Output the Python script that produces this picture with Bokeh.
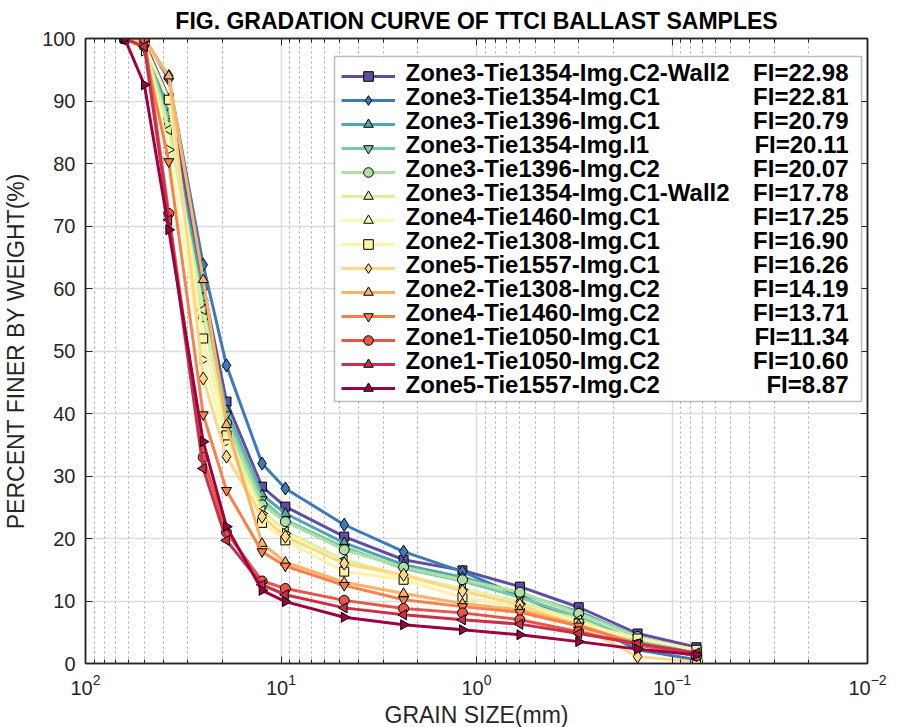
import numpy as np
from bokeh.plotting import figure
from bokeh.models import (Range1d, LogTicker, SingleIntervalTicker, Legend, LegendItem,
                          Label, BoxAnnotation, ColumnDataSource, LogAxis, LinearAxis,
                          CustomJSTickFormatter)
from bokeh.core.properties import value
from bokeh.embed import file_html
from bokeh.resources import INLINE

# ---------------- data ----------------
sieve_mm = [63.0, 50.0, 37.5, 25.0, 19.0, 12.5, 9.5, 4.75, 2.36, 1.18, 0.6, 0.3, 0.15, 0.075]

z3_t1354_c2_wall2 = [100, 99.5, 90.5, 60.5, 41.9, 28.3, 25.1, 20.3, 16.6, 14.9, 12.3, 9.0, 4.8, 2.6]
z3_t1354_c1       = [100, 100, 93.5, 63.8, 47.7, 32.0, 28.0, 22.2, 17.9, 14.7, 10.8, 6.8, 2.2, 0.6]
z3_t1396_c1       = [100, 99.5, 88.0, 58.5, 40.5, 27.0, 24.0, 19.3, 15.8, 13.8, 11.2, 8.3, 4.3, 1.5]
z3_t1354_i1       = [100, 99.0, 86.7, 57.0, 39.8, 26.2, 23.0, 18.6, 15.2, 13.2, 10.6, 7.5, 3.6, 1.5]
z3_t1396_c2       = [100, 99.0, 86.0, 55.5, 38.5, 25.4, 22.7, 18.2, 15.4, 13.4, 11.4, 8.0, 4.3, 2.1]
z3_t1354_c1_wall2 = [100, 98.5, 85.4, 56.6, 37.0, 24.5, 21.1, 16.6, 14.0, 12.0, 9.8, 7.0, 3.2, 1.2]
z4_t1460_c1       = [100, 98.0, 82.2, 48.6, 35.5, 24.0, 20.8, 16.0, 13.8, 11.8, 9.5, 6.6, 3.0, 1.25]
z2_t1308_c1       = [100, 99.0, 90.2, 52.0, 36.5, 22.5, 19.7, 14.7, 13.4, 10.6, 9.0, 6.4, 4.0, 2.2]
z5_t1557_c1       = [100, 99.5, 94.0, 45.6, 33.1, 23.5, 20.3, 16.0, 14.2, 11.6, 9.4, 6.0, 1.1, 0.26]
z2_t1308_c2       = [100, 100, 94.0, 61.4, 38.2, 19.2, 16.2, 13.0, 11.2, 9.6, 8.6, 6.2, 3.0, 1.2]
z4_t1460_c2       = [100, 98.5, 80.3, 39.8, 27.7, 17.9, 15.6, 12.5, 10.2, 9.1, 8.2, 6.0, 3.2, 1.2]
z1_t1050_c1       = [100, 100, 72.0, 33.0, 21.0, 13.2, 12.0, 10.1, 8.8, 8.1, 7.0, 5.1, 3.0, 1.24]
z1_t1050_c2       = [100, 98.7, 71.0, 31.2, 19.7, 12.6, 11.0, 8.9, 7.8, 7.0, 6.3, 4.8, 3.2, 1.7]
z5_t1557_c2       = [100, 92.6, 69.4, 35.5, 21.9, 11.7, 9.9, 7.4, 6.2, 5.4, 4.6, 3.5, 2.3, 1.4]

series_values = [z3_t1354_c2_wall2, z3_t1354_c1, z3_t1396_c1, z3_t1354_i1, z3_t1396_c2,
                 z3_t1354_c1_wall2, z4_t1460_c1, z2_t1308_c1, z5_t1557_c1, z2_t1308_c2,
                 z4_t1460_c2, z1_t1050_c1, z1_t1050_c2, z5_t1557_c2]

sample_names = ["Zone3-Tie1354-Img.C2-Wall2", "Zone3-Tie1354-Img.C1", "Zone3-Tie1396-Img.C1",
                "Zone3-Tie1354-Img.I1", "Zone3-Tie1396-Img.C2", "Zone3-Tie1354-Img.C1-Wall2",
                "Zone4-Tie1460-Img.C1", "Zone2-Tie1308-Img.C1", "Zone5-Tie1557-Img.C1",
                "Zone2-Tie1308-Img.C2", "Zone4-Tie1460-Img.C2", "Zone1-Tie1050-Img.C1",
                "Zone1-Tie1050-Img.C2", "Zone5-Tie1557-Img.C2"]
fi_labels = ["FI=22.98", "FI=22.81", "FI=20.79", "FI=20.11", "FI=20.07", "FI=17.78", "FI=17.25",
             "FI=16.90", "FI=16.26", "FI=14.19", "FI=13.71", "FI=11.34", "FI=10.60", "FI=8.87"]

# ---------------- style ----------------
colors = ["#5e4fa2", "#3c7bb7", "#4ea7b0", "#7bcaa5", "#b0dfa3", "#ddf19a", "#f5fbb0",
          "#fff3ab", "#fed885", "#fdb264", "#f7814c", "#e65749", "#c8304c", "#9e0142"]
markers = ["square", "diamond", "triangle", "inverted_triangle", "circle", "triangle", "triangle"] * 2
angles = [0.0, 0.0, 0.0, 0.0, 0.0, np.pi / 2, -np.pi / 2] * 2
msizes = [9, 13, 10, 10, 10, 10, 10] * 2

FONT = "Liberation Sans"
DARK = "#262626"

p = figure(frame_width=782, frame_height=625, x_axis_type="log",
           x_range=Range1d(100, 0.01), y_range=Range1d(0, 100),
           output_backend="svg", toolbar_location=None,
           min_border_left=85, min_border_right=30, min_border_top=37, min_border_bottom=65,
           title="FIG. GRADATION CURVE OF TTCI BALLAST SAMPLES")
p.background_fill_color = "white"
p.border_fill_color = "white"
p.outline_line_color = DARK
p.outline_line_width = 1.5

p.title.align = "center"
p.title.text_font = FONT
p.title.text_font_style = "bold"
p.title.text_font_size = "23px"
p.title.text_color = "black"

bottom_ax = p.below[0]
left_ax = p.left[0]
bottom_ax.ticker = LogTicker(num_minor_ticks=10)
left_ax.ticker = SingleIntervalTicker(interval=10, num_minor_ticks=0)

# mirrored tick axes on top and right (no labels), like a boxed axes
top_ax = LogAxis(ticker=LogTicker(num_minor_ticks=10),
                 formatter=CustomJSTickFormatter(code="return ''"), major_label_standoff=0)
right_ax = LinearAxis(ticker=SingleIntervalTicker(interval=10, num_minor_ticks=0),
                      formatter=CustomJSTickFormatter(code="return ''"), major_label_standoff=0)
p.add_layout(top_ax, "above")
p.add_layout(right_ax, "right")

for ax in (bottom_ax, left_ax, top_ax, right_ax):
    ax.axis_line_color = DARK
    ax.axis_line_width = 1.5
    ax.major_tick_in = 7
    ax.major_tick_out = 0
    ax.minor_tick_in = 4
    ax.minor_tick_out = 0
    ax.major_tick_line_color = DARK
    ax.minor_tick_line_color = DARK
    ax.major_label_text_font = FONT
    ax.major_label_text_color = DARK
    ax.axis_label_text_font = FONT
    ax.axis_label_text_font_size = "23px"
    ax.axis_label_text_font_style = "normal"
    ax.axis_label_text_color = DARK
bottom_ax.major_label_text_font_size = "20px"
left_ax.major_label_text_font_size = "20px"
top_ax.major_label_text_font_size = "1px"
right_ax.major_label_text_font_size = "1px"
left_ax.minor_tick_line_color = None
right_ax.minor_tick_line_color = None
bottom_ax.axis_label = "GRAIN SIZE(mm)"
left_ax.axis_label = "PERCENT FINER BY WEIGHT(%)"
bottom_ax.major_label_standoff = 10
left_ax.major_label_standoff = 10
bottom_ax.axis_label_standoff = 4
left_ax.axis_label_standoff = 10

p.xgrid.grid_line_color = "#dcdcdc"
p.xgrid.grid_line_width = 1.5
p.xgrid.minor_grid_line_color = "#a8a8a8"
p.xgrid.minor_grid_line_dash = "2 3"
p.xgrid.minor_grid_line_width = 1
p.ygrid.grid_line_color = "#dcdcdc"
p.ygrid.grid_line_width = 1.5

items = []
for i, vals in enumerate(series_values):
    src = ColumnDataSource(dict(x=sieve_mm, y=vals, ang=[angles[i]] * len(sieve_mm)))
    lr = p.line("x", "y", source=src, line_color=colors[i], line_width=3)
    sr = p.scatter("x", "y", source=src, marker=markers[i], size=msizes[i], angle="ang",
                   fill_color=colors[i], line_color="black", line_width=1)
    items.append(LegendItem(label=value(" "), renderers=[lr, sr]))

# legend frame
p.add_layout(BoxAnnotation(left=249, right=776, top=607, bottom=262,
                           left_units="screen", right_units="screen",
                           top_units="screen", bottom_units="screen",
                           fill_color="white", fill_alpha=1.0,
                           line_color=DARK, line_width=1.5, level="annotation"))

legend = Legend(items=items, location=(256, 263), padding=4, spacing=0,
                glyph_width=54, glyph_height=24, label_height=24, label_width=10,
                label_text_font_size="10px", label_standoff=2,
                border_line_color=None, background_fill_alpha=0.0)
p.add_layout(legend, "center")

for i in range(len(sample_names)):
    yy = 591 - 24 * i
    p.add_layout(Label(x=320, y=yy, x_units="screen", y_units="screen", text=sample_names[i],
                       text_font=FONT, text_font_style="bold", text_font_size="24px",
                       text_baseline="middle", text_align="left", text_color="black"))
    p.add_layout(Label(x=763, y=yy, x_units="screen", y_units="screen", text=fi_labels[i],
                       text_font=FONT, text_font_style="bold", text_font_size="24px",
                       text_baseline="middle", text_align="right", text_color="black"))

open("out.html", "w").write(file_html(p, INLINE))
